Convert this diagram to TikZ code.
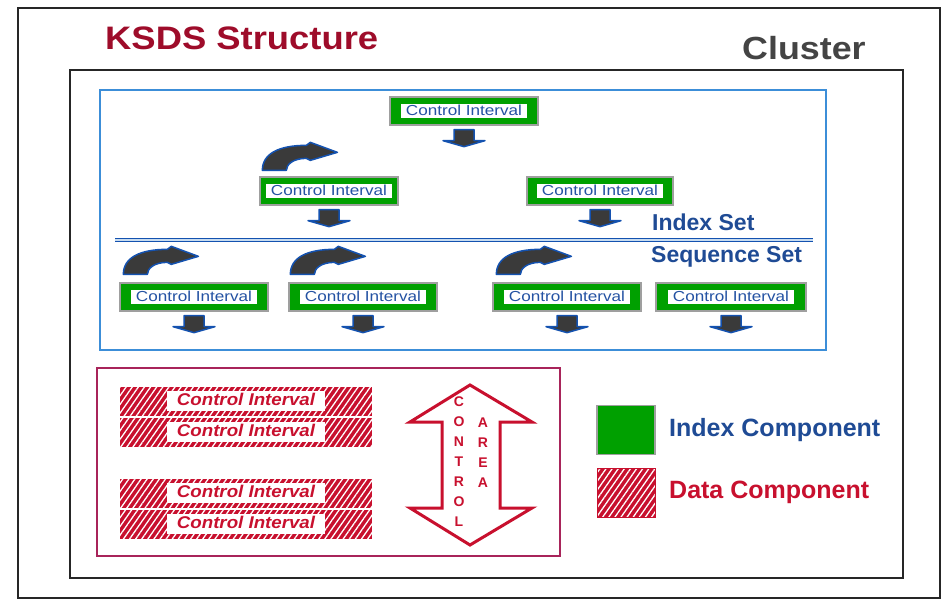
\documentclass[tikz,border=0pt]{standalone}
\usepackage{fontspec}
\setmainfont{Liberation Sans}
\newfontfamily\cisans[FakeStretch=1.18]{Liberation Sans}
\newfontfamily\datasans[FakeStretch=1.1]{Liberation Sans}
\newfontfamily\widesans[FakeStretch=1.12]{Liberation Sans}
\usetikzlibrary{patterns.meta,calc}

\definecolor{titlered}{HTML}{9E0C2A}
\definecolor{clustergray}{HTML}{444444}
\definecolor{setblue}{HTML}{1F4B95}
\definecolor{cigreen}{HTML}{00A000}
\definecolor{citext}{HTML}{2452A3}
\definecolor{frameblue}{HTML}{3C8ED8}
\definecolor{datared}{HTML}{C8102E}
\definecolor{dataframe}{HTML}{A8245A}
\definecolor{arrowgray}{HTML}{3A3A3A}
\definecolor{arrowblue}{HTML}{1452B0}
\definecolor{divfill}{HTML}{C8DCF0}

\newcommand{\cilabel}{{\setlength{\fboxsep}{0.8pt}\colorbox{white}{\makebox[124pt]{\rule[-2.5pt]{0pt}{12.5pt}Control Interval}}}}
\newcommand{\dilabel}{{\setlength{\fboxsep}{2pt}\colorbox{white}{\makebox[154pt]{\rule[-4pt]{0pt}{16pt}Control Interval}}}}

\tikzset{
  cibox/.style={draw=gray!75, line width=1.3pt, fill=cigreen, minimum width=148pt,
    minimum height=28pt, inner sep=0pt, text=citext,
    font=\cisans\fontsize{14.5}{14.5}\selectfont},
  hatchfill/.style={preaction={fill=datared},
    pattern={Lines[angle=55,distance=5pt,line width=1.3pt]}, pattern color=white},
  databox/.style={hatchfill, minimum width=252pt, minimum height=29pt, inner sep=0pt,
    text=datared, font=\datasans\bfseries\itshape\fontsize{17}{17}\selectfont},
  setlabel/.style={anchor=west, inner sep=0pt, text=setblue,
    font=\bfseries\fontsize{23}{23}\selectfont},
  legendlabel/.style={anchor=west, inner sep=0pt, font=\bfseries\fontsize{25}{25}\selectfont},
  arealetter/.style={inner sep=0pt, text=datared, font=\bfseries\fontsize{14}{14}\selectfont},
  % small downward block arrow below a control interval
  droparrow/.pic={
    \draw[fill=arrowgray, draw=arrowblue, line width=1.5pt, line join=round]
      (-10,0) -- (10,0) -- (10,11) -- (21,11) -- (0,17) -- (-21,11) -- (-10,11) -- cycle;
  },
  % curved arrow turning from upwards to the right
  turnarrow/.pic={
    \draw[fill=arrowgray, draw=arrowblue, line width=1.5pt, line join=round]
      (0,0) .. controls (0,-17) and (17,-25) .. (44,-25)
      -- (48,-28) -- (75,-18) -- (48,-10) -- (44,-12)
      .. controls (31,-12) and (24,-6) .. (24,0) -- cycle;
  }
}

\begin{document}
\begin{tikzpicture}[x=1pt, y=-1pt]
\useasboundingbox (0,0) rectangle (943,602);
\fill[white] (0,0) rectangle (943,602);

% frames
\draw[black!85, line width=1.6pt] (18,8) rectangle (940,598);
\draw[black!85, line width=1.8pt] (70,70) rectangle (903,578);
\draw[frameblue, line width=1.2pt] (100,90) rectangle (826,350);
\draw[dataframe, line width=1.2pt] (97,368) rectangle (560,556);

% headings
\node[anchor=west, inner sep=0pt, text=titlered, font=\widesans\bfseries\fontsize{32.5}{32.5}\selectfont]
  (title) at (105,38) {KSDS Structure};
\node[anchor=west, inner sep=0pt, text=clustergray, font=\widesans\bfseries\fontsize{32}{32}\selectfont]
  (cluster) at (742,48) {Cluster};

% index set
\node[cibox] (top) at (464,111) {\cilabel};
\node[cibox, minimum width=138pt] (ia) at (329,191) {\cilabel};
\node[cibox, minimum width=146pt] (ib) at (600,191) {\cilabel};

% divider between index set and sequence set
\coordinate (divl) at (115,240);
\coordinate (divr) at (813,240);
\draw[arrowblue, line width=3.6pt] (divl) -- (divr);
\draw[divfill, line width=1.1pt] (divl) -- (divr);

\node[setlabel] (indexset) at (652,222) {Index Set};
\node[setlabel] (seqset) at (651,257) {Sequence Set};

% sequence set
\node[cibox] (sa) at (194,297) {\cilabel};
\node[cibox] (sb) at (363,297) {\cilabel};
\node[cibox] (sc) at (567,297) {\cilabel};
\node[cibox, minimum width=150pt] (sd) at (731,297) {\cilabel};

% arrows below each control interval
\foreach \n in {top,ia,ib,sa,sb,sc,sd}
  \pic at ($(\n.south)+(0,4)$) {droparrow};

% curved arrows above the left boxes
\pic at ($(ia.north west)+(3,-6)$) {turnarrow};
\pic at ($(sa.north west)+(4,-8)$) {turnarrow};
\pic at ($(sb.north west)+(2,-8)$) {turnarrow};
\pic at ($(sc.north west)+(4,-8)$) {turnarrow};

% data component
\node[databox] (da) at (246,401) {\dilabel};
\node[databox] (db) at (246,432) {\dilabel};
\node[databox] (dc) at (246,493) {\dilabel};
\node[databox] (dd) at (246,524) {\dilabel};

% control area double arrow
\draw[datared, line width=3pt, fill=white, line join=miter]
  (470,385) -- (532,422) -- (500,422) -- (500,508) -- (532,508) -- (470,545)
  -- (410,508) -- (442,508) -- (442,422) -- (410,422) -- cycle;
\foreach \ch [count=\i] in {C,O,N,T,R,O,L}
  \node[arealetter] (ctl\i) at (459,{382+20*\i}) {\ch};
\foreach \ch [count=\i] in {A,R,E,A}
  \node[arealetter] (area\i) at (483,{403+20*\i}) {\ch};

% legend
\node[draw=gray!75, line width=1.3pt, fill=cigreen, minimum width=58pt, minimum height=49pt,
  inner sep=0pt] (legidx) at (626,430) {};
\node[hatchfill, draw=datared, line width=1pt, minimum width=58pt, minimum height=49pt,
  inner sep=0pt] (legdata) at (626,493) {};
\node[legendlabel, text=setblue] (legidxtxt) at (669,430) {Index Component};
\node[legendlabel, text=datared] (legdatatxt) at (669,492) {Data Component};
\end{tikzpicture}
\end{document}
